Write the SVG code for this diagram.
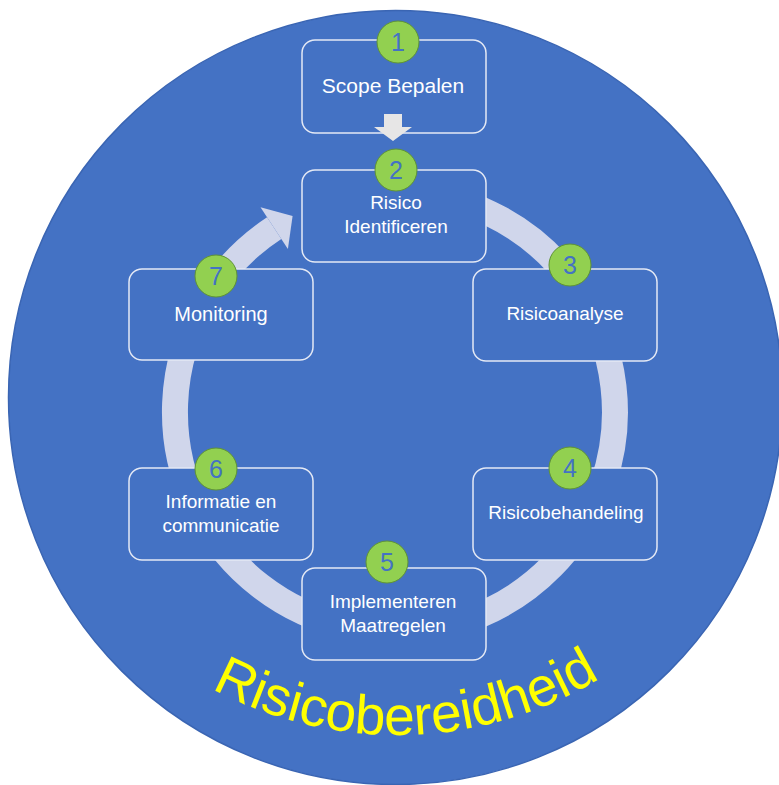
<svg xmlns="http://www.w3.org/2000/svg" width="779" height="785" viewBox="0 0 779 785">
<style>
.box{fill:#4472C4;stroke:#E4E9F5;stroke-width:1.5}
.badge{fill:#92D050;stroke:#5F9335;stroke-width:1}
.num{font-family:"Liberation Sans","DejaVu Sans",sans-serif;font-size:25px;fill:#4472C4;text-anchor:middle}
.lbl{font-family:"Liberation Sans","DejaVu Sans",sans-serif;font-size:19px;fill:#FFFFFF;text-anchor:middle}
.ring{fill:none;stroke:#D0D6EB;stroke-width:26}
</style>
<defs>
<path id="txtArc" d="M 119.8 620.2 A 392 392 0 0 0 688.3 605.3"/>
</defs>
<rect width="779" height="785" fill="#FFFFFF"/>
<circle cx="395.5" cy="397.5" r="387" fill="#4472C4" stroke="#3A65B3" stroke-width="1.5"/>
<g id="node1">
<rect class="box" x="302" y="40" width="184" height="93" rx="13"/>
<text class="lbl" x="393" y="93" style="font-size:21px">Scope Bepalen</text>
</g>
<g id="connectors">
<path class="ring" d="M 395 192 A 220 220 0 1 1 274.2 228.1"/>
<polygon points="260.5,207.2 292.6,216.0 287.9,249.0" fill="#D0D6EB"/>
<polygon points="384,114 402,114 402,127 412,127 393,141 374,127 384,127" fill="#E7E6E6"/>
</g>
<g id="node2">
<rect class="box" x="302" y="170" width="184" height="92" rx="13"/>
<text class="lbl" x="396" y="209">Risico</text>
<text class="lbl" x="396" y="233">Identificeren</text>
</g>
<g id="node3">
<rect class="box" x="473" y="269" width="184" height="92" rx="13"/>
<text class="lbl" x="565" y="320">Risicoanalyse</text>
</g>
<g id="node4">
<rect class="box" x="473" y="468" width="184" height="92" rx="13"/>
<text class="lbl" x="566" y="519">Risicobehandeling</text>
</g>
<g id="node5">
<rect class="box" x="302" y="568" width="184" height="92" rx="13"/>
<text class="lbl" x="393" y="608">Implementeren</text>
<text class="lbl" x="393" y="632">Maatregelen</text>
</g>
<g id="node6">
<rect class="box" x="129" y="468" width="184" height="92" rx="13"/>
<text class="lbl" x="221" y="508">Informatie en</text>
<text class="lbl" x="221" y="532">communicatie</text>
</g>
<g id="node7">
<rect class="box" x="129" y="269" width="184" height="91" rx="13"/>
<text class="lbl" x="221" y="321" style="font-size:20px">Monitoring</text>
</g>
<g id="badges">
<circle class="badge" cx="398" cy="42" r="21"/><text class="num" x="398" y="51">1</text>
<circle class="badge" cx="396" cy="170" r="21"/><text class="num" x="396" y="179">2</text>
<circle class="badge" cx="570" cy="265" r="21"/><text class="num" x="570" y="274">3</text>
<circle class="badge" cx="570" cy="468" r="21"/><text class="num" x="570" y="477">4</text>
<circle class="badge" cx="387" cy="562" r="21"/><text class="num" x="387" y="571">5</text>
<circle class="badge" cx="216" cy="469" r="21"/><text class="num" x="216" y="478">6</text>
<circle class="badge" cx="216" cy="276" r="21"/><text class="num" x="216" y="285">7</text>
</g>
<text font-family="Liberation Sans, DejaVu Sans, sans-serif" font-size="55" fill="#FFFF00" text-anchor="middle"><textPath href="#txtArc" startOffset="50%">Risicobereidheid</textPath></text>
</svg>
